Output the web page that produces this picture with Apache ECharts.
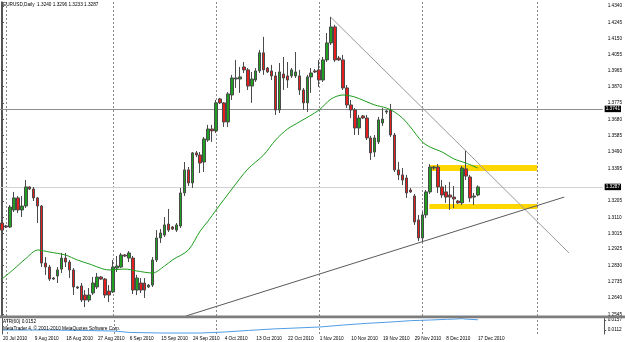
<!DOCTYPE html>
<html><head><meta charset="utf-8">
<script src="https://cdn.jsdelivr.net/npm/echarts@6/dist/echarts.min.js"></script>
<style>html,body{margin:0;padding:0;background:#fff}#c{width:625px;height:342px}</style>
</head><body><div id="c"></div>
<script>
// ---- data (daily bars, index 0 = first visible bar) ----
const opens = [1.3077,1.3060,1.3054,1.3153,1.3223,1.3153,1.3176,1.3287,1.3275,1.3223,
1.3176,1.2844,1.2821,1.2757,1.2769,1.2809,1.2873,1.2850,1.2804,1.2705,
1.2711,1.2658,1.2629,1.2670,1.2705,1.2763,1.2751,1.2681,1.2676,1.2815,
1.2821,1.2891,1.2873,1.2873,1.2687,1.2728,1.2728,1.2705,1.2716,1.2862,
1.2990,1.3007,1.3071,1.3054,1.3036,1.3060,1.3252,1.3386,1.3310,1.3485,
1.3473,1.3432,1.3560,1.3624,1.3613,1.3799,1.3776,1.3665,1.3822,1.3915,
1.3915,1.3985,1.3968,1.3874,1.3909,1.3962,1.4067,1.3979,1.3962,1.3933,
1.3735,1.3944,1.3933,1.3933,1.3933,1.3933,1.3851,1.3776,1.3927,1.3962,
1.3968,1.3909,1.4026,1.4125,1.4218,1.4037,1.4026,1.3863,1.3764,1.3735,
1.3630,1.3700,1.3688,1.3572,1.3490,1.3549,1.3659,1.3723,1.3735,1.3589,
1.3386,1.3357,1.3339,1.3269,1.3234,1.3095,1.2990,1.3124,1.3258,1.3397,
1.3403,1.3287,1.3258,1.3240,1.3228,1.3205,1.3194,1.3392,1.3345,1.3228,
1.3240];
const closes = [1.3036,1.3054,1.3170,1.3223,1.3153,1.3176,1.3287,1.3275,1.3223,1.3176,
1.2844,1.2821,1.2751,1.2751,1.2804,1.2873,1.2850,1.2804,1.2705,1.2699,
1.2629,1.2629,1.2658,1.2728,1.2763,1.2751,1.2658,1.2658,1.2821,1.2827,
1.2891,1.2885,1.2903,1.2687,1.2757,1.2687,1.2687,1.2716,1.2862,1.2990,
1.3019,1.3066,1.3036,1.3042,1.3066,1.3252,1.3386,1.3310,1.3485,1.3473,
1.3426,1.3566,1.3624,1.3613,1.3776,1.3776,1.3665,1.3828,1.3921,1.3921,
1.3927,1.3968,1.3874,1.3915,1.3962,1.4067,1.3968,1.3956,1.3933,1.3735,
1.3956,1.3921,1.3909,1.3968,1.3956,1.3851,1.3776,1.3927,1.3950,1.3956,
1.3909,1.4026,1.4125,1.4218,1.4026,1.4026,1.3863,1.3764,1.3735,1.3630,
1.3688,1.3688,1.3572,1.3485,1.3572,1.3677,1.3682,1.3729,1.3589,1.3386,
1.3357,1.3327,1.3252,1.3258,1.3083,1.2990,1.3124,1.3258,1.3403,1.3403,
1.3287,1.3240,1.3228,1.3228,1.3217,1.3194,1.3397,1.3350,1.3223,1.3234,
1.3287];
const lows = [1.3025,1.3048,1.3048,1.3141,1.3135,1.3112,1.3164,1.3269,1.3205,1.3077,
1.2821,1.2775,1.2740,1.2746,1.2728,1.2786,1.2821,1.2757,1.2658,1.2693,
1.2617,1.2588,1.2617,1.2658,1.2693,1.2746,1.2641,1.2617,1.2670,1.2792,
1.2815,1.2879,1.2850,1.2664,1.2658,1.2670,1.2641,1.2699,1.2705,1.2850,
1.2961,1.2996,1.3025,1.3036,1.3025,1.3048,1.3234,1.3292,1.3281,1.3461,
1.3368,1.3374,1.3549,1.3549,1.3601,1.3770,1.3636,1.3636,1.3793,1.3863,
1.3834,1.3950,1.3851,1.3776,1.3898,1.3950,1.3939,1.3950,1.3909,1.3706,
1.3717,1.3851,1.3863,1.3921,1.3921,1.3822,1.3735,1.3723,1.3834,1.3950,
1.3869,1.3898,1.4014,1.4113,1.4014,1.4020,1.3851,1.3746,1.3688,1.3589,
1.3589,1.3682,1.3560,1.3444,1.3461,1.3537,1.3642,1.3711,1.3578,1.3374,
1.3327,1.3298,1.3223,1.3252,1.3066,1.2972,1.2967,1.3106,1.3246,1.3386,
1.3252,1.3223,1.3194,1.3153,1.3164,1.3188,1.3182,1.3327,1.3199,1.3182,
1.3233];
const highs = [1.3095,1.3066,1.3182,1.3258,1.3234,1.3234,1.3327,1.3292,1.3287,1.3228,
1.3182,1.2879,1.2833,1.2763,1.2821,1.2903,1.2903,1.2862,1.2815,1.2711,
1.2728,1.2687,1.2699,1.2763,1.2786,1.2769,1.2757,1.2716,1.2862,1.2885,
1.2903,1.2897,1.2914,1.2885,1.2775,1.2757,1.2757,1.2722,1.2879,1.3036,
1.3042,1.3112,1.3159,1.3060,1.3077,1.3281,1.3432,1.3403,1.3490,1.3496,
1.3490,1.3578,1.3648,1.3648,1.3793,1.3805,1.3781,1.3839,1.3939,1.4026,
1.3985,1.4014,1.3979,1.3956,1.3979,1.4084,1.4160,1.3985,1.3997,1.3956,
1.4008,1.4043,1.4014,1.3979,1.4072,1.3968,1.3863,1.3939,1.3979,1.3973,
1.4026,1.4043,1.4183,1.4276,1.4230,1.4049,1.4055,1.3880,1.3793,1.3746,
1.3706,1.3706,1.3706,1.3584,1.3589,1.3694,1.3746,1.3735,1.3770,1.3601,
1.3432,1.3397,1.3357,1.3281,1.3246,1.3124,1.3141,1.3269,1.3420,1.3409,
1.3420,1.3327,1.3298,1.3316,1.3292,1.3211,1.3409,1.3502,1.3357,1.3252,
1.3296];
// moving average read at bar indices
const maPoints = [[0,1.2751],[3,1.2809],[6,1.2870],[9,1.2920],[12,1.2908],[16,1.2891],[19,1.2862],[22,1.2839],
[27,1.2804],[31,1.2809],[34,1.2798],[38,1.2786],[41,1.2827],[43,1.2862],[47,1.2920],[50,1.3031],[52,1.3089],
[54,1.3153],[58,1.3275],[62,1.3391],[66,1.3473],[69,1.3560],[72,1.3624],[75,1.3665],[80,1.3735],[83,1.3799],
[86,1.3822],[89,1.3810],[94,1.3764],[97,1.3746],[99,1.3723],[101,1.3688],[103,1.3636],[106,1.3549],[108,1.3519],
[111,1.3490],[114,1.3450],[117,1.3426],[120,1.3397]];
// ATR sub-window
const atrPoints = [[0,0.0112],[10,0.0112],[20,0.0110],[28,0.01075],[32,0.0101],[40,0.00985],[50,0.00985],[56,0.0103],
[62,0.0110],[68,0.01165],[74,0.0121],[80,0.01255],[86,0.01345],[92,0.0142],[98,0.0148],[103,0.0154],[108,0.0157],
[112,0.0160],[114,0.0161],[116,0.0163],[117,0.0161],[120,0.0158]];
const priceTicks = [1.4340,1.4245,1.4150,1.4055,1.3965,1.3870,1.3775,1.3680,1.3585,1.3490,1.3395,1.3205,1.3110,1.3015,1.2925,1.2830,1.2735,1.2640,1.2545];
const atrTicks = [0.0157,0.0112];
const dateTickIdx = [0,8,16,24,32,40,48,56,64,72,80,88,96,104,112,120];
const dateTickLabels = ['20 Jul 2010','9 Aug 2010','18 Aug 2010','27 Aug 2010','6 Sep 2010','15 Sep 2010','24 Sep 2010','4 Oct 2010','13 Oct 2010','22 Oct 2010','1 Nov 2010','10 Nov 2010','19 Nov 2010','29 Nov 2010','8 Dec 2010','17 Dec 2010'];
const monthStartIdx = [1,28,54,80,106,135];
const levelLines = [1.3741, 1.3287];
const trendLineA = [[82.85,1.4276],[143.0,1.2903]];
const trendLineB = [[46.4,1.2536],[141.8,1.3228]];
const zones = [[107.8,1.3415,135,1.3380],[107.8,1.3188,135,1.3159]];
const titleText = 'EURUSD,Daily  1.3240 1.3296 1.3233 1.3287';
const atrText = 'ATR(60) 0.0152';
const copyText = 'MetaTrader 4, \u00a9 2001-2010 MetaQuotes Software Corp.';

// ---- chart ----
const N = 152;
const cats = Array.from({length: N}, (_, i) => String(i));
const candle = opens.map((o, i) => [o, closes[i], lows[i], highs[i]]);
const FS = 4.7, FF = 'Liberation Sans';
const txt = {fontSize: FS, fontFamily: FF, color: '#000', fontWeight: 'normal'};
const levelColors = ['#8e8e8e', '#d2d2d2'];
const vline = monthStartIdx.map(i => ({xAxis: i, lineStyle: {color: '#8a8a8a', type: [2, 2], width: 1}, label: {show: false}}));

const chart = echarts.init(document.getElementById('c'), null, {renderer: 'canvas'});
chart.setOption({
  animation: false,
  backgroundColor: '#ffffff',
  title: [
    {text: titleText, left: 3, top: 2.5, padding: 0, textStyle: txt},
    {text: atrText, left: 3, top: 319.5, padding: 0, textStyle: txt},
    {text: copyText, left: 3, top: 325.8, padding: 0, textStyle: txt}
  ],
  grid: [
    {left: 0, top: 2, width: 604, height: 314},
    {left: 0, top: 318.5, width: 604, height: 15.5}
  ],
  xAxis: [
    {type: 'category', gridIndex: 0, data: cats, boundaryGap: true, axisLine: {show: false}, axisTick: {show: false}, axisLabel: {show: false}, splitLine: {show: false}},
    {type: 'value', gridIndex: 0, min: -0.5, max: N - 0.5, show: false},
    {type: 'category', gridIndex: 1, data: cats, boundaryGap: true, axisLine: {show: false}, axisTick: {show: false},
     axisLabel: {show: true, interval: (i) => dateTickIdx.includes(i), formatter: (v, i) => dateTickLabels[dateTickIdx.indexOf(i)] || '',
       align: 'left', margin: 1.8, ...txt}, splitLine: {show: false}}
  ],
  yAxis: [
    {type: 'value', gridIndex: 0, position: 'right', offset: 1.5, min: 1.2536, max: 1.4363,
     axisLine: {show: true, lineStyle: {color: '#555', width: 1}},
     axisTick: {show: true, customValues: priceTicks, length: 2, lineStyle: {color: '#555'}},
     axisLabel: {customValues: priceTicks, formatter: v => v.toFixed(4), margin: 3.5, ...txt},
     splitLine: {show: false}},
    {type: 'value', gridIndex: 1, position: 'right', offset: 1.5, min: 0.0094, max: 0.016375,
     axisLine: {show: true, lineStyle: {color: '#555', width: 1}},
     axisTick: {show: true, customValues: atrTicks, length: 2, lineStyle: {color: '#555'}},
     axisLabel: {customValues: atrTicks, formatter: v => v.toFixed(4), margin: 3.5, ...txt},
     splitLine: {show: false}},
    {type: 'value', gridIndex: 0, position: 'left', offset: -1.5, min: 0, max: 1, axisLine: {show: true, onZero: false, lineStyle: {color: '#555'}}, axisTick: {show: false}, axisLabel: {show: false}, splitLine: {show: false}},
    {type: 'value', gridIndex: 1, position: 'left', offset: -1.5, min: 0, max: 1, axisLine: {show: true, onZero: false, lineStyle: {color: '#555'}}, axisTick: {show: false}, axisLabel: {show: false}, splitLine: {show: false}}
  ],
  graphic: [
    {type: 'rect', shape: {x: 0, y: 315.6, width: 625, height: 2.6}, style: {fill: '#7d7d7d'}, z: 50}
  ],
  series: [
    {type: 'custom', xAxisIndex: 1, yAxisIndex: 0, data: zones, z: 1, silent: true,
     encode: {x: [0, 2], y: [1, 3]},
     renderItem: (params, api) => {
       const p1 = api.coord([api.value(0), api.value(1)]);
       const p2 = api.coord([api.value(2), api.value(3)]);
       return {type: 'rect', shape: {x: p1[0], y: p1[1], width: p2[0] - p1[0], height: p2[1] - p1[1]}, style: {fill: '#FFD700'}};
     }},
    {type: 'candlestick', xAxisIndex: 0, yAxisIndex: 0, data: candle, barWidth: 3, z: 5,
     itemStyle: {color: '#1f9f1f', color0: '#e61e1e', borderColor: '#4a4a4a', borderColor0: '#4a4a4a', borderWidth: 1},
     markLine: {symbol: ['none', 'none'], silent: true, animation: false, precision: 4,
       data: vline.concat(levelLines.map((v, k) => ({yAxis: v,
         lineStyle: {color: levelColors[k], type: 'solid', width: 1},
         label: {show: true, position: 'end', distance: 2, formatter: p => Number(p.value).toFixed(4), backgroundColor: '#000', color: '#fff', padding: [1, 1, 0.5, 1], fontSize: FS, fontFamily: FF}})))}},
    {type: 'line', xAxisIndex: 0, yAxisIndex: 0, data: maPoints, symbol: 'none', smooth: 0.3, z: 6,
     lineStyle: {color: '#1c9c1c', width: 1}},
    {type: 'line', xAxisIndex: 1, yAxisIndex: 0, data: trendLineA, symbol: 'none', z: 7, lineStyle: {color: '#9a9a9a', width: 1}},
    {type: 'line', xAxisIndex: 1, yAxisIndex: 0, data: trendLineB, symbol: 'none', z: 7, lineStyle: {color: '#5a5a5a', width: 1}},
    {type: 'line', xAxisIndex: 2, yAxisIndex: 1, data: atrPoints, symbol: 'none', z: 5,
     lineStyle: {color: '#4f9de6', width: 1},
     markLine: {symbol: ['none', 'none'], silent: true, animation: false, data: vline}}
  ]
});
</script>
</body></html>
